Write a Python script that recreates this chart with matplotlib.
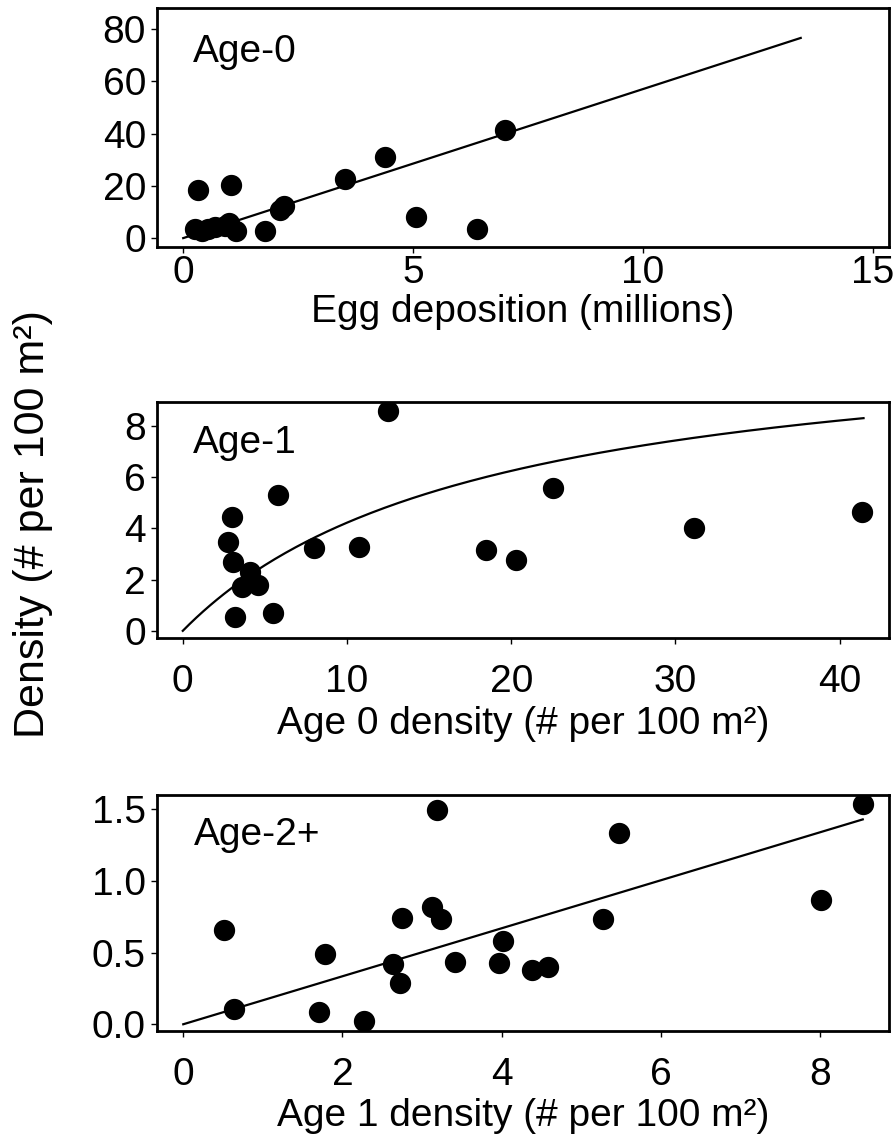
import numpy as np
import matplotlib
matplotlib.use("Agg")
import matplotlib.pyplot as plt

plt.rcParams['font.family'] = ['Liberation Sans', 'DejaVu Sans']

# Age-0 density vs egg deposition (millions)
egg_millions = [0.25, 0.40, 0.55, 0.70, 0.90, 1.00, 1.15, 1.78, 2.10, 2.20,
                0.33, 1.04, 3.52, 4.38, 5.07, 6.38, 7.00]
age0_density = [3.5, 2.9, 3.3, 4.2, 4.6, 5.8, 2.9, 2.7, 10.7, 12.4,
                18.4, 20.2, 22.6, 31.2, 7.9, 3.3, 41.4]
egg_fit_slope = 5.7
egg_fit_max = 13.43

# Age-1 density vs age-0 density
age0_x = [12.52, 5.79, 2.98, 2.78, 3.08, 4.10, 3.59, 4.61, 3.19, 5.52,
          7.96, 10.74, 18.47, 20.30, 22.55, 31.14, 41.38]
age1_y = [8.58, 5.29, 4.42, 3.47, 2.69, 2.30, 1.72, 1.78, 0.55, 0.68,
          3.21, 3.28, 3.15, 2.76, 5.57, 4.00, 4.63]
bh_a = 0.651
bh_b = 0.0544
age0_fit_max = 41.45

# Age-2+ density vs age-1 density
age1_x = [8.54, 3.19, 5.48, 8.01, 0.51, 3.13, 3.24, 2.75, 5.27, 4.02,
          1.78, 2.64, 3.42, 3.97, 4.38, 4.59, 2.73, 0.64, 1.70, 2.27]
age2_y = [1.539, 1.493, 1.337, 0.868, 0.660, 0.817, 0.736, 0.740, 0.736, 0.580,
          0.490, 0.419, 0.435, 0.424, 0.377, 0.400, 0.285, 0.104, 0.088, 0.023]
age1_fit_slope = 0.1673
age1_fit_max = 8.54

W, H = 894, 1141
fig = plt.figure(figsize=(W / 100, H / 100), dpi=100)

def make_axes(top_px, bottom_px):
    left, right = 157, 889
    return fig.add_axes([left / W, 1 - bottom_px / H,
                         (right - left) / W, (bottom_px - top_px) / H])

FS = 28
MS = 205

def style(ax, xpad):
    for sp in ax.spines.values():
        sp.set_linewidth(2)
    ax.tick_params(direction='out', length=4, width=1, labelsize=FS,
                   top=False, right=False)
    ax.tick_params(axis='y', pad=4)
    ax.tick_params(axis='x', pad=xpad)

# Panel 1
ax1 = make_axes(8, 247)
ax1.scatter(egg_millions, age0_density, s=MS, color='black', zorder=3)
xl = np.linspace(0, egg_fit_max, 50)
ax1.plot(xl, egg_fit_slope * xl, color='black', lw=1.6)
ax1.set_xlim(-0.57, 15.35)
ax1.set_ylim(-3.4, 88)
ax1.set_xticks([0, 5, 10, 15])
ax1.set_yticks([0, 20, 40, 60, 80])
ax1.set_xlabel('Egg deposition (millions)', fontsize=FS, labelpad=2)
ax1.text(0.049, 0.774, 'Age-0', transform=ax1.transAxes, fontsize=FS,
         va='baseline', ha='left')
style(ax1, 2)

# Panel 2
ax2 = make_axes(402, 638)
ax2.scatter(age0_x, age1_y, s=MS, color='black', zorder=3)
xc = np.linspace(0, age0_fit_max, 200)
ax2.plot(xc, bh_a * xc / (1 + bh_b * xc), color='black', lw=1.6)
ax2.set_xlim(-1.57, 43.0)
ax2.set_ylim(-0.28, 8.92)
ax2.set_xticks([0, 10, 20, 30, 40])
ax2.set_yticks([0, 2, 4, 6, 8])
ax2.set_xlabel('Age 0 density (# per 100 m²)', fontsize=FS, labelpad=4)
ax2.text(0.049, 0.783, 'Age-1', transform=ax2.transAxes, fontsize=FS,
         va='baseline', ha='left')
style(ax2, 15)

# Panel 3
ax3 = make_axes(795, 1031)
ax3.scatter(age1_x, age2_y, s=MS, color='black', zorder=3)
xs = np.linspace(0, age1_fit_max, 50)
ax3.plot(xs, age1_fit_slope * xs, color='black', lw=1.6)
ax3.set_xlim(-0.33, 8.87)
ax3.set_ylim(-0.047, 1.599)
ax3.set_xticks([0, 2, 4, 6, 8])
ax3.set_yticks([0.0, 0.5, 1.0, 1.5])
ax3.set_yticklabels(['0.0', '0.5', '1.0', '1.5'])
ax3.set_xlabel('Age 1 density (# per 100 m²)', fontsize=FS, labelpad=3)
ax3.text(0.05, 0.788, 'Age-2+', transform=ax3.transAxes, fontsize=FS,
         va='baseline', ha='left')
style(ax3, 15)

fig.text(33 / W, 1 - 524 / H, 'Density (# per 100 m²)', rotation=90,
         fontsize=31, ha='center', va='center')

fig.savefig('out.png', dpi=100)
